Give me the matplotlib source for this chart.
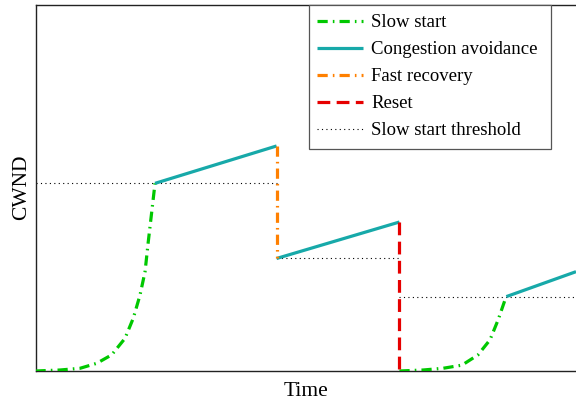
import matplotlib
matplotlib.use("Agg")
import matplotlib.pyplot as plt
from matplotlib.lines import Line2D
from matplotlib.patches import Rectangle

# ---- data (time, cwnd) ----
ss1_t = [0.0, 2.04, 3.71, 5.10, 6.34, 7.45, 8.14, 8.70, 9.12, 9.39, 9.68, 9.95]
ss1_w = [0.0, 0.27, 0.74, 2.1, 4.4, 8.9, 14.4, 20.7, 27.1, 35.3, 43.5, 51.2]

ca1_t = [9.95, 20.07]
ca1_w = [51.2, 61.4]

fr_t = [20.07, 20.07]
fr_w = [61.4, 30.7]

ca2_t = [20.07, 30.3]
ca2_w = [30.7, 40.65]

reset_t = [30.3, 30.3]
reset_w = [40.65, 0.0]

ss2_t = [30.3, 32.26, 33.93, 35.51, 36.84, 37.84, 38.51, 39.09, 39.2]
ss2_w = [0.0, 0.27, 0.74, 1.6, 4.4, 8.5, 13.9, 19.4, 20.3]

ca3_t = [39.2, 45.0]
ca3_w = [20.3, 27.1]

thr_t = [[0.0, 20.07], [20.07, 30.3], [30.3, 45.0]]
thr_w = [51.2, 30.7, 20.3]

labels = ["Slow start", "Congestion avoidance", "Fast recovery", "Reset",
          "Slow start threshold"]

plt.rcParams['font.family'] = ['Liberation Serif', 'DejaVu Serif']

fig = plt.figure(figsize=(5.76, 4.0), dpi=100)
ax = fig.add_axes([35.5 / 576, 1 - 371 / 400, 1 - 35.5 / 576, (371 - 4.5) / 400])

green = '#00c800'
teal = '#17a9a9'
orange = '#ff8000'
red = '#e60000'

thr_style = dict(color='black', lw=0.8, linestyle=(0, (1, 3)))
for (t0, t1), w in zip(thr_t, thr_w):
    ax.plot([t0, t1], [w, w], zorder=2, **thr_style)

ss_style = dict(color=green, lw=2.3, dashes=(3.2, 1.6, 0.5, 1.6), zorder=3)
fr_style = dict(color=orange, lw=2.3, dashes=(3.2, 1.6, 0.5, 1.6), zorder=3)
ca_style = dict(color=teal, lw=2.3, linestyle='-', zorder=3, solid_capstyle='butt')
rs_style = dict(color=red, lw=2.3, dashes=(4.0, 2.0), zorder=3)

ax.plot(ss1_t, ss1_w, **ss_style)
ax.plot(ss2_t, ss2_w, **ss_style)
ax.plot(ca1_t, ca1_w, **ca_style)
ax.plot(ca2_t, ca2_w, **ca_style)
ax.plot(ca3_t, ca3_w, **ca_style)
ax.plot(fr_t, fr_w, **fr_style)
ax.plot(reset_t, reset_w, **rs_style)

# legend frame (drawn separately so the box matches the reference)
frame = Rectangle((309 / 576, 1 - 148.5 / 400), (551 - 309) / 576, (148.5 - 4.5) / 400,
                  transform=fig.transFigure, facecolor='white', edgecolor='#555555',
                  linewidth=0.9, zorder=4)
fig.patches.append(frame)

handles = [
    Line2D([], [], **ss_style),
    Line2D([], [], **ca_style),
    Line2D([], [], **fr_style),
    Line2D([], [], **rs_style),
    Line2D([], [], **thr_style),
]
leg = fig.legend(handles, labels, loc='upper left',
                 bbox_to_anchor=(309 / 576, 1 - 5.5 / 400),
                 bbox_transform=fig.transFigure, borderaxespad=0,
                 fontsize=13.5, handlelength=2.45, handletextpad=0.43,
                 labelspacing=0.53, borderpad=0.45, frameon=False)
leg.set_zorder(5)

ax.set_xlim(0, 45)
ax.set_ylim(0, 100)
ax.set_xticks([])
ax.set_yticks([])
ax.spines['right'].set_visible(False)
for s in ['left', 'bottom', 'top']:
    ax.spines[s].set_linewidth(1.0)
    ax.spines[s].set_color('#222222')

ax.set_xlabel('Time', fontsize=15.5, labelpad=8)
ax.set_ylabel('CWND', fontsize=15.5, labelpad=3)

fig.savefig('out.png', dpi=100)
